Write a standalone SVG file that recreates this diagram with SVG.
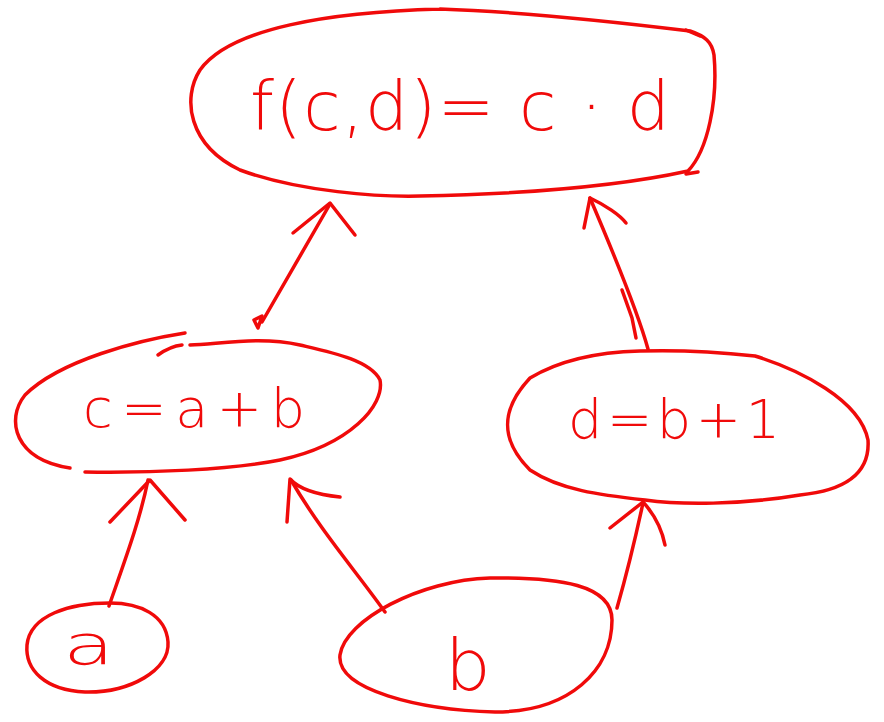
<svg xmlns="http://www.w3.org/2000/svg" width="884" height="722" viewBox="0 0 884 722">
<style>
.s{fill:none;stroke:#f00a0a;stroke-width:3.5;stroke-linecap:round;stroke-linejoin:round}
.t{fill:#f00a0a;font-family:"DejaVu Sans","Liberation Sans",sans-serif;font-weight:300}
</style>
<rect width="884" height="722" fill="#fff"/>
<g id="connectors">
<path class="s" d="M262,322 L330,204"/>
<path class="s" d="M293,233 L330,203 L355,235"/>
<path class="s" d="M254,320 L262,316 L258,328 Z"/>
<path class="s" d="M648,349 C640,320 625,280 590,198"/>
<path class="s" d="M622,290 L632,318 L636,338"/>
<path class="s" d="M584,228 L590,198 C605,205 620,215 626,223"/>
<path class="s" d="M109,606 C125,560 140,520 148,480"/>
<path class="s" d="M110,522 L150,480 L185,520"/>
<path class="s" d="M385,612 C355,570 320,530 291,480"/>
<path class="s" d="M287,522 L290,479 C300,490 320,495 340,497"/>
<path class="s" d="M617,608 C625,580 635,540 643,503"/>
<path class="s" d="M610,528 L643,502 C655,515 662,530 665,545"/>
</g>
<g id="node-f">
<path class="s" d="M440,9 C330,12 230,28 200,70 C182,98 188,145 240,170 C300,192 380,197 420,196 C520,194 620,186 688,171 C708,150 718,100 714,55 C712,42 705,36 690,31 C600,20 500,11 440,9"/>
<path class="s" d="M686,30 L700,36"/>
<path class="s" d="M686,174 L698,172"/>
<text class="t" x="250" y="130" font-size="68" textLength="420" lengthAdjust="spacing">f(c,d)= c · d</text>
</g>
<g id="node-c">
<path class="s" d="M185,333 C140,340 60,360 25,395 C5,420 15,460 70,468"/>
<path class="s" d="M158,355 C165,350 172,346 182,345"/>
<path class="s" d="M85,472 C150,473 230,470 280,460 C350,445 385,405 380,380 C370,360 330,352 300,345 C260,336 220,344 190,345"/>
<text class="t" x="83" y="427" font-size="54" textLength="222" lengthAdjust="spacing">c=a+b</text>
</g>
<g id="node-d">
<path class="s" d="M755,356 C800,370 860,400 868,440 C870,470 850,490 800,495 C740,505 680,505 645,500 C600,495 560,490 530,470 C500,440 500,410 530,378 C560,360 600,352 640,351 C670,350 700,350 755,356"/>
<text class="t" x="568" y="438" font-size="54" textLength="212" lengthAdjust="spacing">d=b+1</text>
</g>
<g id="node-a">
<path class="s" d="M110,603 C70,603 30,615 27,645 C25,670 45,690 85,692 C130,693 170,670 168,642 C166,615 140,603 110,603"/>
<text class="t" x="63" y="664" font-size="56" transform="translate(63,0) scale(1.5,1) translate(-63,0)">a</text>
</g>
<g id="node-b">
<path class="s" d="M490,578 C420,580 345,620 340,655 C336,690 420,710 495,712 C570,712 612,670 612,620 C612,585 560,577 490,578"/>
<text class="t" x="445" y="690" font-size="72">b</text>
</g>
</svg>
